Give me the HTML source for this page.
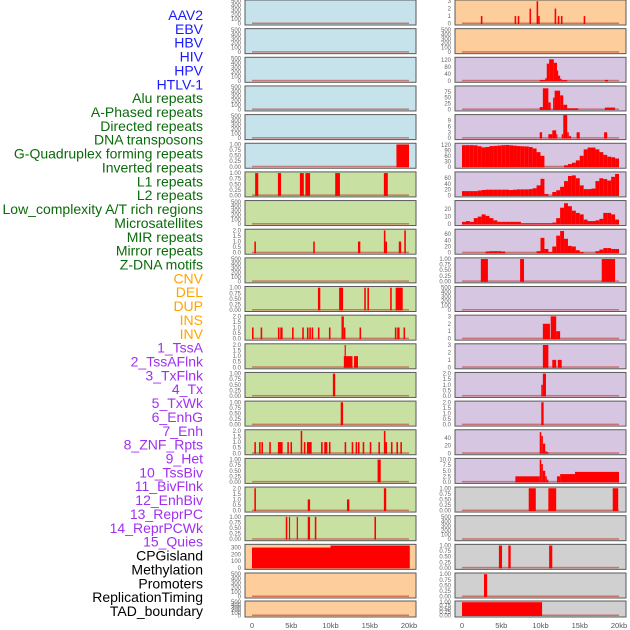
<!DOCTYPE html>
<html><head><meta charset="utf-8"><style>
body{margin:0;background:#fff;}
svg{display:block;font-family:"Liberation Sans",sans-serif;}
</style></head><body>
<svg id="chart" width="630" height="630" viewBox="0 0 630 630"></svg>
<script>
// ---- labels ----
const trackLabels = ["AAV2","EBV","HBV","HIV","HPV","HTLV-1","Alu repeats","A-Phased repeats","Directed repeats","DNA transposons","G-Quadruplex forming repeats","Inverted repeats","L1 repeats","L2 repeats","Low_complexity A/T rich regions","Microsatellites","MIR repeats","Mirror repeats","Z-DNA motifs","CNV","DEL","DUP","INS","INV","1_TssA","2_TssAFlnk","3_TxFlnk","4_Tx","5_TxWk","6_EnhG","7_Enh","8_ZNF_Rpts","9_Het","10_TssBiv","11_BivFlnk","12_EnhBiv","13_ReprPC","14_ReprPCWk","15_Quies","CPGisland","Methylation","Promoters","ReplicationTiming","TAD_boundary"];
const labelGroups = [6,13,5,15,5];
const groupColors = ["#1a1aff","#0a6b0a","#ffa500","#a030f0","#000000"];
const xTickLabels = ["0","5kb","10kb","15kb","20kb"];
const xTickValues = [0,5,10,15,20];

// ---- panel data: bars are [startKb, endKb, value]; binned series use 0.5kb bins ----
const T500 = [0,100,200,300,400,500], T1 = [0,0.25,0.5,0.75,1], T2 = [0,0.5,1,1.5,2], T3=[0,1,2,3];
const leftBars = [
  [],[],[],[],[],
  [[18.4,20.0,1]],
  [[0.4,0.8,1],[3.3,3.7,1],[6.1,6.6,1],[6.8,7.4,1],[10.6,11.2,1],[16.8,17.3,1]],
  [],
  [[0.3,0.5,1],[7.8,8.0,1],[13.5,13.8,1],[16.8,17.0,2],[17.0,17.2,1],[18.7,19.0,1],[19.4,19.6,2]],
  [],
  [[8.4,8.7,1],[11.1,11.6,1],[14.3,14.5,1],[14.7,14.9,1],[17.6,17.8,1],[18.3,19.2,1]],
  [[0.0,0.2,1],[1.1,1.3,1],[3.3,3.5,1],[3.6,3.9,1],[5.1,5.3,1],[6.4,6.6,1],[7.0,7.2,1],[7.3,7.5,1],[7.6,7.8,1],[8.4,8.6,1],[9.8,10.0,1],[11.4,11.7,2],[11.7,11.9,1],[13.7,13.9,1],[18.2,18.4,1],[18.5,18.8,1],[19.3,19.5,1]],
  [[11.7,12.8,1],[11.8,11.95,2],[13.0,13.5,1]],
  [[10.3,10.6,1]],
  [[11.3,11.6,1]],
  [[0.3,0.5,1],[0.9,1.1,1],[1.2,1.4,1],[2.2,2.4,1],[3.3,3.9,1],[4.5,4.7,1],[4.9,5.1,1],[6.2,6.4,2],[6.6,6.8,1],[7.0,7.6,1],[8.8,9.0,1],[9.2,9.6,1],[9.8,10.0,1],[11.8,12.0,1],[12.7,12.9,1],[13.2,13.4,1],[13.5,13.7,1],[14.1,14.3,1],[15.0,15.2,1],[16.1,16.3,1],[16.8,17.0,2],[17.0,17.2,1],[17.7,17.9,1],[18.4,18.6,1],[18.9,19.1,1]],
  [[16.0,16.4,1]],
  [[0.3,0.5,2],[7.1,7.4,1],[12.1,12.4,1],[16.8,17.1,2]],
  [[4.3,4.5,1],[4.7,4.8,1],[5.7,5.8,1],[7.1,7.4,1],[8.0,8.2,1],[15.6,15.8,1]],
  [[0,10.0,300],[10.0,20.1,330]],
  [],[]
];
const leftTicks = [T500,T500,T500,T500,T500,T1,T1,T500,T2,T500,T1,T2,T2,T1,T1,T2,T1,T2,T1,[0,100,200,300],T500,T500];
const leftMax = [500,500,500,500,500,1,1,500,2,500,1,2,2,1,1,2,1,2,1,330,500,500];
const leftColors = ["#c6e3ec","#c6e3ec","#c6e3ec","#c6e3ec","#c6e3ec","#c6e3ec","#c8e0a2","#c8e0a2","#c8e0a2","#c8e0a2","#c8e0a2","#c8e0a2","#c8e0a2","#c8e0a2","#c8e0a2","#c8e0a2","#c8e0a2","#c8e0a2","#c8e0a2","#fdcd9c","#fdcd9c","#fdcd9c"];

const binG4 = [118,118,118,117,112,106,108,113,114,116,118,119,117,115,113,112,111,108,100,80,60,0,0,0,0,0,8,15,22,35,60,95,105,105,95,80,65,55,52,45];
const binL1 = [15,15,15,15,17,19,20,20,20,20,20,20,19,20,21,21,21,22,25,35,58,5,0,12,18,30,50,68,70,60,35,22,22,24,50,60,57,52,65,75];
const binL2 = [3,4,3,8,10,13,11,8,5,3,3,3,3,3,3,1,1,1,1,1,1,1,1,2,8,22,28,24,18,15,13,6,4,4,5,7,15,15,13,6];
const binLow = [0,0,0,0,0,0,4,5,5,5,4,0,0,0,0,0,0,0,0,5,48,12,2,20,55,70,45,22,20,8,2,0,0,0,5,10,15,15,12,12];
const rightBars = [
  [[2.4,2.6,1],[6.7,6.9,1],[7.1,7.3,1],[8.6,8.8,2],[9.5,9.7,3],[9.7,9.9,1],[11.8,12.0,2],[12.2,12.4,1],[12.6,12.8,1],[15.5,15.7,1]],
  [],
  [[9.9,10.6,5],[10.6,10.8,15],[10.8,11.1,100],[11.1,11.7,125],[11.7,12.1,105],[12.1,12.2,60],[12.2,12.5,30],[12.5,12.7,12],[12.7,13.4,4],[18.2,18.6,5]],
  [[9.9,10.3,10],[10.3,11.0,90],[11.0,11.3,30],[11.6,11.8,50],[11.8,12.5,80],[12.5,12.9,60],[12.9,13.4,20],[13.4,14.8,5],[18.2,19.5,8]],
  [[9.9,10.2,3],[11.0,11.5,2],[11.5,12.0,4],[12.0,12.1,2],[12.7,12.9,2],[12.9,13.4,12],[13.4,13.6,3],[13.6,13.9,1],[14.6,15.0,3],[18.1,18.5,3]],
  binG4, binL1, binL2, binLow,
  [[2.4,3.3,1],[7.4,7.9,1],[17.8,19.5,1]],
  [],
  [[10.3,11.2,2],[11.3,12.0,3],[12.0,12.5,1]],
  [[10.3,11.0,3],[11.5,12.0,1],[12.2,12.7,1]],
  [[10.1,10.3,1],[10.3,10.7,2]],
  [[10.1,10.4,2]],
  [[9.9,10.1,55],[10.1,10.3,45],[10.3,10.6,25],[10.6,10.8,5],[10.8,11.0,3]],
  [[6.8,9.9,2.5],[9.9,10.1,10],[10.1,10.3,8],[10.3,10.6,5],[10.6,10.8,2.5],[10.8,11.0,1],[12.1,12.5,2.5],[12.5,14.4,3.5],[14.4,20.0,4.5]],
  [[8.5,9.4,1],[11.0,12.0,1],[19.2,19.9,1]],
  [],
  [[4.7,5.1,1],[5.9,6.2,1],[11.1,11.5,1]],
  [[2.8,3.2,1]],
  [[0,10.2,1]]
];
const rightTicks = [T3,T500,[0,40,80,120],[0,25,50,75],[0,3,6,9],[0,30,60,90,120],[0,20,40,60],[0,10,20],[0,20,40,60],T1,T500,T3,T3,T2,T2,[0,20,40],[0,2.5,5,7.5,10],T1,T500,T1,T1,T1];
const rightMax = [3,500,130,95,11.5,122,78,30,72,1,500,3,3,2,2,58,10,1,500,1,1,1];
const rightColors = ["#fdcd9c","#fdcd9c","#d6c6e2","#d6c6e2","#d6c6e2","#d6c6e2","#d6c6e2","#d6c6e2","#d6c6e2","#d6c6e2","#d6c6e2","#d6c6e2","#d6c6e2","#d6c6e2","#d6c6e2","#d6c6e2","#d6c6e2","#d0d0d0","#d0d0d0","#d0d0d0","#d0d0d0","#d0d0d0"];

const svg = document.getElementById('chart');
const NS = 'http://www.w3.org/2000/svg';
function mk(tag, attrs, parent){const e=document.createElementNS(NS,tag);for(const k in attrs)e.setAttribute(k,attrs[k]);(parent||svg).appendChild(e);return e;}

// labels
let li=0;
labelGroups.forEach((n,g)=>{for(let i=0;i<n;i++){
  const t=mk('text',{x:203,y:20+li*13.86,'text-anchor':'end','font-size':14,fill:groupColors[g]});
  t.textContent=trackLabels[li];
  
  
  li++;}});

const rowTop = i => i<21 ? i*28.65 : 601;
const rowH = i => i<21 ? 25 : 16;
const kbX = (kb, x0) => x0 + 7 + kb*7.85;

function fmt(v){return (Number.isInteger(v)||v>=3)? String(v) : (v<=1? v.toFixed(2) : v.toFixed(1));}

function panel(col, i, bars, ticks, ymax, color){
  const x0 = col===0?245:455, w=171, y0=rowTop(i), h=rowH(i);
  const g=mk('g',{});
  
  
  mk('rect',{x:x0,y:y0,width:w,height:h,fill:color,stroke:'#5a5a5a','stroke-width':1},g);
  const yb=y0+h-1.5, yt=y0+1.2;
  const yS=v=>yb-(v/ymax)*(yb-yt);
  const dec = ticks.some(t=>!Number.isInteger(t)) ? (ticks[ticks.length-1]<=1?2:1) : 0;
  ticks.forEach(t=>{
    const tx=mk('text',{x:x0-4,y:yS(t)+2,'text-anchor':'end','font-size':6,fill:'#666'},g);
    tx.textContent=t.toFixed(dec);
    
    
  });
  // baseline
  mk('rect',{x:kbX(0,x0),y:yb-1,width:kbX(20,x0)-kbX(0,x0),height:1.5,fill:'#c0392b',opacity:0.6},g);
  const isBinned = bars.length && typeof bars[0]==='number';
  bars.forEach((b,j)=>{
    let s,e,v;
    if(isBinned){s=j*0.5;e=s+0.5;v=b;} else {s=b[0];e=b[1];v=b[2];}
    if(!v) return;
    const top=Math.max(y0+0.5,yS(v));
    const r=mk('rect',{x:kbX(s,x0),y:top,width:Math.max(1.2,kbX(e,x0)-kbX(s,x0)),height:yb+0.5-top,fill:'#ff0000'},g);
    
    
  });
}
for(let i=0;i<22;i++){
  panel(0,i,leftBars[i],leftTicks[i],leftMax[i],leftColors[i]);
  panel(1,i,rightBars[i],rightTicks[i],rightMax[i],rightColors[i]);
}
// x ticks
[245,455].forEach(x0=>{xTickValues.forEach((v,k)=>{
  const t=mk('text',{x:kbX(v,x0),y:628,'text-anchor':'middle','font-size':7.5,fill:'#555'});
  t.textContent=xTickLabels[k];
  
  
});});
</script>
</body></html>
